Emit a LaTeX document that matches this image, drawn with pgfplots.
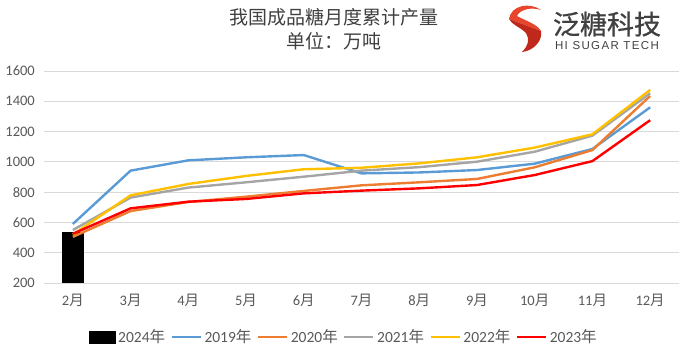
\documentclass[border=0pt]{standalone}
\usepackage{fontspec}
\usepackage{pgfplots}
\pgfplotsset{compat=1.18}
\setmainfont{Carlito}
\newfontfamily\cjk{Noto Sans CJK SC}
\newfontfamily\cjkb{Noto Sans CJK SC}[FakeBold=0.8]
\newfontfamily\libsans{Liberation Sans}[LetterSpace=12]
\definecolor{c2019}{HTML}{5B9BD5}
\definecolor{c2020}{HTML}{ED7D31}
\definecolor{c2021}{HTML}{A5A5A5}
\definecolor{c2022}{HTML}{FFC000}
\definecolor{c2023}{HTML}{FF0000}
\definecolor{gridc}{HTML}{D9D9D9}
\definecolor{tickc}{HTML}{595959}
\definecolor{titc}{HTML}{404040}
\definecolor{logor}{HTML}{E8452C}
\definecolor{logod}{HTML}{C0281C}
\newcommand{\yue}{{\cjk 月}}
\newcommand{\nian}{{\cjk 年}}
\begin{document}
\begin{tikzpicture}[x=1pt,y=1pt]
\useasboundingbox (0,0) rectangle (682,357);
\begin{axis}[
  at={(44pt,74pt)}, anchor=south west,
  scale only axis, width=635pt, height=212pt,
  xmin=-0.5, xmax=10.5, ymin=200, ymax=1600,
  enlargelimits=false,
  axis line style={draw=none},
  major tick length=0pt,
  xtick={0,...,10},
  xticklabels={2\yue,3\yue,4\yue,5\yue,6\yue,7\yue,8\yue,9\yue,10\yue,11\yue,12\yue},
  ytick={200,400,...,1600},
  ymajorgrids, grid style={gridc, line width=0.9pt},
  /pgf/number format/assume math mode=true,
  /pgf/number format/1000 sep={},
  tick label style={font=\fontsize{14.5}{16}\selectfont, text=tickc},
  yticklabel style={anchor=east, inner sep=0pt, xshift=-9pt},
  xticklabel style={anchor=north, inner sep=0pt, yshift=-11pt},
  legend style={at={(0.4724,-0.2547)}, anchor=center, draw=none, fill=none,
    font=\fontsize{15.5}{17}\selectfont, text=tickc,
    /tikz/every even column/.append style={column sep=3pt},
    nodes={inner sep=2.5pt}},
  legend columns=-1,
  legend image code/.code={\draw[#1, line width=2.4pt] (0pt,0pt) -- (29pt,0pt);},
]
\addplot[ybar, bar width=22pt, fill=black, draw=none,
  legend image code/.code={\fill[black] (0pt,-6.5pt) rectangle (27pt,6.5pt);}]
  coordinates {(0,540)};
\addlegendentry{2024\nian}
\addplot[c2019, line width=2.4pt] coordinates {
 (0,590) (1,942) (2,1010) (3,1030) (4,1045) (5,924) (6,930) (7,946) (8,988) (9,1085) (10,1360)};
\addlegendentry{2019\nian}
\addplot[c2020, line width=2.4pt] coordinates {
 (0,505) (1,675) (2,735) (3,770) (4,808) (5,845) (6,865) (7,887) (8,964) (9,1078) (10,1435)};
\addlegendentry{2020\nian}
\addplot[c2021, line width=2.4pt] coordinates {
 (0,550) (1,764) (2,830) (3,865) (4,902) (5,942) (6,965) (7,1001) (8,1067) (9,1173) (10,1453)};
\addlegendentry{2021\nian}
\addplot[c2022, line width=2.4pt] coordinates {
 (0,520) (1,779) (2,854) (3,907) (4,951) (5,961) (6,990) (7,1030) (8,1094) (9,1182) (10,1475)};
\addlegendentry{2022\nian}
\addplot[c2023, line width=2.4pt] coordinates {
 (0,525) (1,693) (2,737) (3,755) (4,792) (5,810) (6,825) (7,847) (8,913) (9,1005) (10,1275)};
\addlegendentry{2023\nian}
\end{axis}
% titles
\node[text=titc, font=\cjk\fontsize{19}{21}\selectfont] at (334,340) {我国成品糖月度累计产量};
\node[text=titc, font=\cjk\fontsize{19}{21}\selectfont] at (334,316) {单位：万吨};
% logo
\fill[logor] (509,338) .. controls (511,352) and (530,355) .. (541,347)
  .. controls (532,350) and (520,348) .. (517,341)
  .. controls (526,336) and (537,333) .. (541,326) -- cycle;
\fill[logod] (509,338) -- (541,326) .. controls (543,316) and (533,306) .. (522,305)
  .. controls (528,311) and (530,318) .. (526,324) .. controls (520,330) and (512,332) .. (509,338) -- cycle;
\node[text=titc, font=\cjkb\fontsize{27}{29}\selectfont, inner sep=0pt] at (607,333) {泛糖科技};
\node[text=titc, font=\libsans\fontsize{11.5}{13}\selectfont, inner sep=0pt] at (607,311) {HI SUGAR TECH};
\end{tikzpicture}
\end{document}
